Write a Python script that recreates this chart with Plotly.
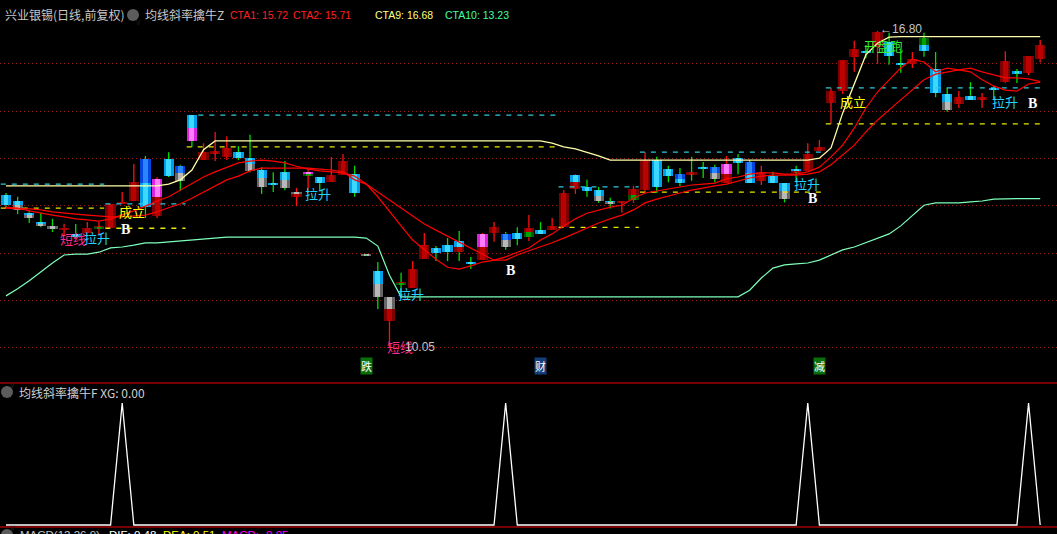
import plotly.graph_objects as go

W, H = 1057, 534

# ---------------- data ----------------
open_ = [13.31, 13.18, 12.93, 12.73, 12.65, 12.56, 12.48, 12.50, 12.60, 12.60,
         13.14, 13.18, 14.07, 12.86, 14.07, 13.93, 15.01, 14.05, 14.20, 14.12,
         14.22, 14.10, 13.84, 13.56, 13.79, 13.37, 13.73, 13.69, 13.58, 13.73,
         13.75, 12.04, 11.69, 11.14, 11.41, 11.33, 11.94, 12.18, 12.24, 12.33,
         11.88, 11.92, 12.50, 12.48, 12.50, 12.41, 12.56, 12.56, 12.62, 13.73,
         13.48, 13.41, 13.16, 13.14, 13.20, 13.41, 14.05, 13.86, 13.75, 13.75,
         13.90, 13.90, 13.56, 14.10, 14.01, 13.61, 13.71, 13.56, 13.86, 13.82,
         14.24, 15.27, 15.52, 16.24, 16.37, 16.46, 16.57, 16.12, 16.10, 16.65,
         15.99, 15.46, 15.24, 15.42, 15.35, 15.59, 15.71, 15.93, 15.91, 16.20]
high = [13.35, 13.27, 12.97, 12.93, 12.80, 12.69, 12.69, 12.73, 12.73, 13.12,
        13.37, 13.97, 14.14, 13.69, 14.22, 13.95, 15.01, 14.41, 14.65, 14.56,
        14.35, 14.59, 13.90, 13.79, 14.03, 13.46, 13.86, 13.69, 14.12, 14.18,
        13.93, 12.05, 11.88, 11.14, 11.65, 11.90, 12.50, 12.22, 12.39, 12.54,
        11.99, 12.50, 12.73, 12.52, 12.62, 12.88, 12.73, 12.82, 13.41, 13.75,
        13.63, 13.48, 13.25, 13.18, 13.50, 14.22, 14.12, 13.93, 13.88, 14.12,
        14.01, 13.95, 14.14, 14.18, 14.05, 13.93, 13.80, 13.56, 13.93, 14.41,
        14.48, 15.59, 16.18, 16.59, 16.50, 16.80, 16.76, 16.40, 16.35, 16.76,
        16.35, 15.59, 15.52, 15.71, 15.48, 15.63, 16.37, 15.99, 16.27, 16.61]
low = [13.03, 12.90, 12.71, 12.62, 12.52, 12.43, 12.39, 12.48, 12.46, 12.60,
       13.14, 13.18, 12.82, 12.82, 13.69, 13.39, 14.33, 14.05, 14.03, 14.05,
       14.05, 13.79, 13.33, 13.37, 13.41, 13.07, 13.35, 13.41, 13.58, 13.73,
       13.27, 12.02, 10.88, 10.05, 11.11, 11.33, 11.94, 11.90, 11.90, 11.90,
       11.73, 11.92, 12.31, 12.14, 12.24, 12.33, 12.48, 12.56, 12.62, 13.33,
       13.27, 13.14, 13.02, 12.93, 13.14, 13.35, 13.35, 13.58, 13.50, 13.61,
       13.67, 13.58, 13.56, 13.75, 13.56, 13.52, 13.56, 13.15, 13.58, 13.82,
       14.24, 14.82, 15.46, 15.93, 16.22, 16.10, 16.08, 15.91, 16.01, 16.25,
       15.39, 15.08, 15.16, 15.33, 15.16, 15.33, 15.69, 15.69, 15.86, 16.13]
close = [13.09, 12.99, 12.82, 12.65, 12.58, 12.61, 12.41, 12.61, 12.62, 13.12,
         13.16, 13.58, 13.05, 13.65, 13.71, 13.61, 14.46, 14.22, 14.24, 14.31,
         14.10, 13.82, 13.48, 13.54, 13.46, 13.27, 13.80, 13.56, 13.73, 14.03,
         13.35, 12.03, 11.14, 10.62, 11.45, 11.73, 12.24, 12.07, 12.09, 12.09,
         11.84, 12.48, 12.62, 12.20, 12.37, 12.61, 12.48, 12.65, 13.35, 13.43,
         13.39, 13.18, 13.12, 13.18, 13.43, 14.05, 13.48, 13.71, 13.56, 13.79,
         13.88, 13.65, 13.97, 13.99, 13.56, 13.80, 13.56, 13.22, 13.79, 14.18,
         14.33, 15.52, 16.18, 16.42, 16.35, 16.78, 16.27, 16.10, 16.20, 16.37,
         15.48, 15.12, 15.39, 15.33, 15.39, 15.56, 16.16, 15.91, 16.27, 16.50]

# body colour class per candle: top-half letter + bottom-half letter
body_class = ['CC', 'CG', 'CG', 'CG', 'GG', 'RR', 'CC', 'RR', 'RN', 'RR',
              'RR', 'RR', 'BC', 'MR', 'CC', 'BG', 'CM', 'RR', 'RR', 'RR',
              'CC', 'CG', 'CG', 'CC', 'CG', 'GR', 'MN', 'CC', 'RR', 'RR',
              'CC', 'GG', 'CG', 'GR', 'RN', 'RR', 'RR', 'CC', 'CC', 'CR',
              'CC', 'MR', 'RR', 'BG', 'CC', 'RN', 'CC', 'RR', 'RR', 'CR',
              'CC', 'CG', 'CG', 'RR', 'RN', 'RR', 'CC', 'CC', 'BC', 'RR',
              'CC', 'BG', 'MR', 'CC', 'BC', 'RR', 'CC', 'CG', 'CR', 'RR',
              'RR', 'RR', 'RR', 'RR', 'CC', 'RR', 'CC', 'CC', 'RR', 'NC',
              'CC', 'CG', 'RR', 'CC', 'RR', 'CC', 'RR', 'CC', 'RR', 'RR']
wick_class = ("gggggrgrrr" "rrgrgggrrr" "gggggrrgrr" "gggrgrrggg" "grrggrgrrr"
              "gggrrrgggg" "ggrggrgggr" "rrrrgrggrg" "ggrgrgrgrr")

cta1 = [13.05, 13.03, 12.97, 12.92, 12.88, 12.84, 12.80, 12.78, 12.75, 12.80,
        12.88, 12.97, 13.07, 13.18, 13.27, 13.41, 13.56, 13.69, 13.80, 13.90,
        13.99, 14.03, 14.05, 14.03, 13.99, 13.92, 13.86, 13.82, 13.80, 13.78,
        13.71, 13.54, 13.27, 12.95, 12.65, 12.35, 12.14, 11.94, 11.77, 11.73,
        11.80, 11.88, 11.92, 11.99, 12.09, 12.18, 12.35, 12.48, 12.65, 12.80,
        12.92, 12.99, 13.05, 13.09, 13.24, 13.35, 13.39, 13.44, 13.48, 13.52,
        13.54, 13.56, 13.65, 13.69, 13.75, 13.78, 13.78, 13.75, 13.75, 13.80,
        13.90, 14.12, 14.37, 14.73, 15.16, 15.50, 15.76, 16.01, 16.20, 16.14,
        15.93, 16.01, 15.97, 16.01, 15.93, 15.86, 15.80, 15.80, 15.78, 15.72]
cta2 = [13.03, 13.01, 13.01, 12.99, 12.95, 12.92, 12.90, 12.88, 12.86, 12.84,
        12.84, 12.86, 12.88, 12.95, 13.03, 13.12, 13.24, 13.37, 13.50, 13.63,
        13.71, 13.82, 13.88, 13.88, 13.88, 13.88, 13.88, 13.86, 13.84, 13.80,
        13.63, 13.54, 13.37, 13.20, 13.03, 12.86, 12.69, 12.56, 12.43, 12.31,
        12.18, 12.05, 11.92, 11.92, 12.03, 12.12, 12.20, 12.29, 12.39, 12.50,
        12.60, 12.71, 12.80, 12.88, 12.99, 13.14, 13.22, 13.29, 13.35, 13.41,
        13.46, 13.50, 13.54, 13.61, 13.67, 13.71, 13.73, 13.73, 13.73, 13.75,
        13.80, 13.95, 14.16, 14.37, 14.65, 14.90, 15.12, 15.33, 15.54, 15.76,
        15.88, 15.93, 15.97, 15.93, 15.76, 15.63, 15.54, 15.52, 15.67, 15.71]
cta9 = [13.50, 13.50, 13.50, 13.50, 13.50, 13.50, 13.50, 13.50, 13.50, 13.50,
        13.50, 13.50, 13.50, 13.50, 13.54, 13.63, 13.84, 14.27, 14.46, 14.46,
        14.46, 14.46, 14.46, 14.46, 14.46, 14.46, 14.46, 14.46, 14.46, 14.46,
        14.46, 14.46, 14.46, 14.46, 14.46, 14.46, 14.46, 14.46, 14.46, 14.46,
        14.46, 14.46, 14.46, 14.46, 14.46, 14.46, 14.46, 14.41, 14.33, 14.29,
        14.22, 14.14, 14.05, 14.05, 14.05, 14.05, 14.05, 14.05, 14.05, 14.05,
        14.05, 14.05, 14.05, 14.05, 14.05, 14.05, 14.05, 14.05, 14.05, 14.05,
        14.09, 14.31, 15.05, 15.67, 16.29, 16.54, 16.67, 16.68, 16.68, 16.68,
        16.68, 16.68, 16.68, 16.68, 16.68, 16.68, 16.68, 16.68, 16.68, 16.68]
cta10 = [11.16, 11.31, 11.48, 11.67, 11.86, 12.03, 12.05, 12.05, 12.09, 12.18,
         12.20, 12.24, 12.29, 12.29, 12.31, 12.33, 12.35, 12.37, 12.39, 12.41,
         12.41, 12.41, 12.41, 12.41, 12.41, 12.41, 12.41, 12.41, 12.41, 12.41,
         12.41, 12.39, 12.22, 11.60, 11.14, 11.14, 11.14, 11.14, 11.14, 11.14,
         11.14, 11.14, 11.14, 11.14, 11.14, 11.14, 11.14, 11.14, 11.14, 11.14,
         11.14, 11.14, 11.14, 11.14, 11.14, 11.14, 11.14, 11.14, 11.14, 11.14,
         11.14, 11.14, 11.14, 11.14, 11.28, 11.54, 11.75, 11.82, 11.84, 11.86,
         11.92, 12.03, 12.14, 12.20, 12.29, 12.39, 12.48, 12.65, 12.88, 13.09,
         13.14, 13.14, 13.14, 13.16, 13.18, 13.22, 13.23, 13.23, 13.23, 13.23]
xg = [0, 0, 0, 0, 0, 0, 0, 0, 0, 0,
      1, 0, 0, 0, 0, 0, 0, 0, 0, 0,
      0, 0, 0, 0, 0, 0, 0, 0, 0, 0,
      0, 0, 0, 0, 0, 0, 0, 0, 0, 0,
      0, 0, 0, 1, 0, 0, 0, 0, 0, 0,
      0, 0, 0, 0, 0, 0, 0, 0, 0, 0,
      0, 0, 0, 0, 0, 0, 0, 0, 0, 1,
      0, 0, 0, 0, 0, 0, 0, 0, 0, 0,
      0, 0, 0, 0, 0, 0, 0, 0, 1, 0]

# dashed support / resistance segments (candle index span, price, kind)
seg_start = [0, 0, 9, 9, 17, 16, 48, 48, 55, 55, 71, 71]
seg_end = [8, 8, 15, 15, 47, 47, 54, 54, 70, 70, 89, 89]
seg_price = [13.54, 13.03, 13.12, 12.60, 15.01, 14.33, 13.48, 12.62, 14.22, 13.37, 15.59, 14.82]
seg_kind = ['c', 'y', 'c', 'y', 'c', 'y', 'c', 'y', 'c', 'y', 'c', 'y']

# signal texts on the price panel
lab_text = ['短线', '拉升', '成立', 'B', '拉升', '短线', '拉升', 'B', '拉升', 'B',
            '成立', '开盘跑', '拉升', 'B', '10.05', '←16.80']
lab_i = [5.8, 7.85, 10.85, 10.25, 26.85, 33.9, 34.85, 43.4, 68.9, 69.4,
         72.9, 75.5, 86.0, 88.3, 35.6, 77.0]
lab_p = [12.39, 12.41, 12.95, 12.58, 13.35, 10.09, 11.22, 11.69, 13.56, 13.24,
         15.29, 16.50, 15.29, 15.25, 10.07, 16.84]
lab_kind = ['pink', 'cyan', 'yellow', 'b', 'cyan', 'pink', 'cyan', 'b', 'cyan', 'b',
            'yellow', 'green', 'cyan', 'b', 'gray', 'gray']

# event tags above the separator
tag_text = ['跌', '财', '减']
tag_i = [31, 46, 70]
tag_kind = ['green', 'blue', 'green']

grid_levels = [10.06, 11.07, 12.07, 13.08, 14.09, 15.09, 16.10]

# ---------------- geometry helpers ----------------
X0, DX = 6.0, 11.62          # pixel of candle 0, pixel per candle
TOP_LO, TOP_HI = 9.305, 17.459


def py(p):
    return 1 - p / H


def px(p):
    return p / W


n = len(close)
idx = list(range(n))

fig = go.Figure()

# ---------------- wicks ----------------
WICK = {'g': '#00dd00', 'r': '#ff1010'}
for code, col in WICK.items():
    xs, ys = [], []
    for i in idx:
        if wick_class[i] != code:
            continue
        top, bot = max(open_[i], close[i]), min(open_[i], close[i])
        if high[i] > top:
            xs += [i, i, None]
            ys += [top, high[i], None]
        if low[i] < bot:
            xs += [i, i, None]
            ys += [bot, low[i], None]
    fig.add_trace(go.Scatter(x=xs, y=ys, mode='lines', hoverinfo='skip',
                             line=dict(color=col, width=1.3)))

# ---------------- bodies ----------------
PAL = {'R': ('#7c0000', '#bb0000'), 'C': ('#009fe8', '#3cd8ff'),
       'B': ('#0045dd', '#2a86ff'), 'G': ('#666666', '#b8b8b8'),
       'M': ('#dd22dd', '#ff7cff'), 'N': ('#005800', '#00a200')}
MIN_H = 0.035
parts = {k: [] for k in PAL}
for i in idx:
    top, bot = max(open_[i], close[i]), min(open_[i], close[i])
    if top - bot < MIN_H:
        mid = (top + bot) / 2
        top, bot = mid + MIN_H / 2, mid - MIN_H / 2
    mid = (top + bot) / 2
    t, b = body_class[i]
    if t == b:
        parts[t].append((i, bot, top - bot))
    else:
        parts[t].append((i, mid, top - mid))
        parts[b].append((i, bot, mid - bot))

for layer, width in ((0, 0.88), (1, 0.42)):
    for letter, items in parts.items():
        if not items:
            continue
        fig.add_trace(go.Bar(x=[a[0] for a in items], y=[a[2] for a in items],
                             base=[a[1] for a in items], width=width,
                             marker=dict(color=PAL[letter][layer], line=dict(width=0)),
                             hoverinfo='skip'))

# ---------------- dashed segments ----------------
SEGCOL = {'c': '#30c8d8', 'y': '#e8e800'}
for s, e, p, k in zip(seg_start, seg_end, seg_price, seg_kind):
    fig.add_trace(go.Scatter(x=[s - 0.45, e + 0.45], y=[p, p], mode='lines', hoverinfo='skip',
                             line=dict(color=SEGCOL[k], width=1.3, dash='5px,6px')))

# ---------------- indicator lines ----------------
fig.add_trace(go.Scatter(x=idx, y=cta10, mode='lines', line=dict(color='#7dffba', width=1.2), hoverinfo='skip'))
fig.add_trace(go.Scatter(x=idx, y=cta9, mode='lines', line=dict(color='#ffffa8', width=1.3), hoverinfo='skip'))
fig.add_trace(go.Scatter(x=idx, y=cta2, mode='lines', line=dict(color='#ff0000', width=1.2), hoverinfo='skip'))
fig.add_trace(go.Scatter(x=idx, y=cta1, mode='lines', line=dict(color='#ff0000', width=1.2), hoverinfo='skip'))

# ---------------- XG panel ----------------
fig.add_trace(go.Scatter(x=idx, y=xg, mode='lines', yaxis='y2', hoverinfo='skip',
                         line=dict(color='#ffffff', width=1.3)))

# ---------------- annotations ----------------
CJK = 'Noto Sans CJK SC'
LABCOL = {'pink': '#ff2c8c', 'cyan': '#22d4ff', 'yellow': '#ffff00', 'green': '#33ee33',
          'gray': '#c4c4c4', 'b': '#ffffff'}
ann = []
for t, xi, p, k in zip(lab_text, lab_i, lab_p, lab_kind):
    if k == 'b':
        ann.append(dict(x=xi, y=p, xref='x', yref='y', text='<b>B</b>', showarrow=False,
                        font=dict(family='Liberation Serif', size=14, color=LABCOL[k])))
    else:
        ann.append(dict(x=xi, y=p, xref='x', yref='y', text=t, showarrow=False,
                        font=dict(family=CJK if k != 'gray' else 'Liberation Sans',
                                  size=13 if k != 'gray' else 12, color=LABCOL[k])))

TAGBG = {'green': '#0a6e0a', 'blue': '#123f7a'}
for t, xi, k in zip(tag_text, tag_i, tag_kind):
    ann.append(dict(x=xi, y=py(375), xref='x', yref='paper', text=t, showarrow=False,
                    bgcolor=TAGBG[k], borderpad=0,
                    font=dict(family=CJK, size=11, color='#ffffff')))

header = [('兴业银锡(日线,前复权)', 3, '#c8c8c8', CJK, 12),
          ('均线斜率擒牛Z', 143, '#c8c8c8', CJK, 12),
          ('CTA1: 15.72', 228, '#ff2020', 'Liberation Sans', 10.5),
          ('CTA2: 15.71', 291, '#ff2020', 'Liberation Sans', 10.5),
          ('CTA9: 16.68', 373, '#ffff80', 'Liberation Sans', 10.5),
          ('CTA10: 13.23', 443, '#40ffa0', 'Liberation Sans', 10.5)]
for t, x0, col, fam, sz in header:
    ann.append(dict(x=px(x0), y=py(15), xref='paper', yref='paper', text=t, showarrow=False,
                    xanchor='left', yanchor='middle', font=dict(family=fam, size=sz, color=col)))

ann.append(dict(x=px(17), y=py(392), xref='paper', yref='paper', text='均线斜率擒牛F XG: 0.00',
                showarrow=False, xanchor='left', yanchor='middle',
                font=dict(family=CJK, size=12, color='#d0d0d0')))

macd = [('MACD(12,26,9)', 18, '#c0c0c0'), ('DIF: 0.48', 107, '#ffffff'),
        ('DEA: 0.51', 161, '#ffff00'), ('MACD: -0.05', 220, '#ff00ff')]
for t, x0, col in macd:
    ann.append(dict(x=px(x0), y=py(527), xref='paper', yref='paper', text=t, showarrow=False,
                    xanchor='left', yanchor='top', font=dict(family='Liberation Sans', size=11.5, color=col)))

# circle icons
shapes = []
for cx, cy in ((133, 15), (7, 392), (7, 535)):
    shapes.append(dict(type='circle', xref='paper', yref='paper',
                       x0=px(cx - 6), x1=px(cx + 6), y0=py(cy + 6), y1=py(cy - 6),
                       fillcolor='#5c5c5c', line=dict(width=0)))
    ann.append(dict(x=px(cx), y=py(cy), xref='paper', yref='paper', text='∨', showarrow=False,
                    font=dict(family='DejaVu Sans', size=9, color='#1a1a1a')))

# panel separators
for yy in (383, 527):
    shapes.append(dict(type='line', xref='paper', yref='paper', x0=0, x1=1, y0=py(yy), y1=py(yy),
                       line=dict(color='#a00000', width=1.5)))

fig.update_layout(
    width=W, height=H, margin=dict(l=0, r=0, t=0, b=0),
    paper_bgcolor='#000000', plot_bgcolor='#000000', showlegend=False,
    barmode='overlay', bargap=0,
    xaxis=dict(range=[-X0 / DX, (W - X0) / DX], visible=False, fixedrange=True),
    yaxis=dict(domain=[py(383), 1], range=[TOP_LO, TOP_HI], showticklabels=False, ticks='',
               zeroline=False, showline=False, showgrid=True, tickvals=grid_levels,
               gridcolor='#a01818', griddash='1px,3px', gridwidth=1, fixedrange=True),
    yaxis2=dict(domain=[py(527), py(384)], range=[-2 / 122, 1 + 19 / 122], anchor='x',
                visible=False, fixedrange=True),
    annotations=ann, shapes=shapes,
)

fig.write_html('out.html', config={'displayModeBar': False},
               post_script="document.body.style.margin='0';document.body.style.background='#000';")
